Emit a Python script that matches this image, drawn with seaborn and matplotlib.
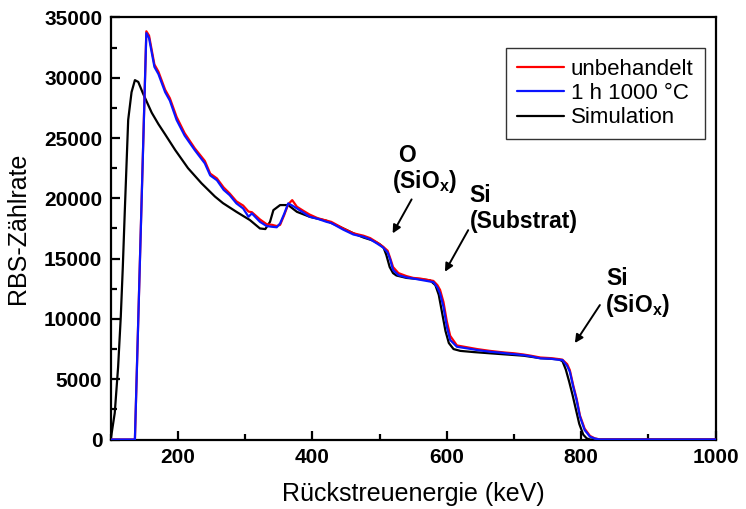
import matplotlib
matplotlib.use("Agg")
import matplotlib.pyplot as plt
from matplotlib.ticker import MultipleLocator
import seaborn as sns
import pandas as pd

# ---------------- data ----------------
energy_meas = [100, 136, 153, 157, 165, 171, 181, 188, 198, 210,
               225, 240, 248, 258, 268, 277, 287, 297, 305, 310,
               322, 332, 340, 347, 352, 358, 364, 370, 377, 387,
               396, 408, 421, 428, 433, 446, 461, 476, 486, 496,
               505, 512, 516, 520, 528, 540, 550, 560, 570, 580,
               586, 590, 595, 600, 605, 615, 630, 645, 664, 680,
               689, 700, 714, 725, 739, 754, 765, 772, 779, 783,
               788, 793, 798, 805, 813, 820, 828, 1000]

counts_unbehandelt = [0, 0, 33850, 33500, 31100, 30500, 29000, 28300, 26750, 25400,
                      24150, 23100, 22050, 21650, 20900, 20400, 19750, 19400, 18900, 18850,
                      18250, 17850, 17800, 17700, 17800, 18600, 19500, 19850, 19300, 18950,
                      18650, 18350, 18150, 18050, 17900, 17500, 17100, 16900, 16700, 16350,
                      16000, 15650, 15000, 14300, 13800, 13550, 13400, 13350, 13250, 13150,
                      12800, 12400, 11400, 9800, 8600, 7800, 7650, 7500, 7350, 7250,
                      7200, 7150, 7050, 6950, 6800, 6750, 6680, 6620, 6250, 5750,
                      4500, 3400, 2000, 900, 300, 100, 0, 0]

counts_1000C = [0, 0, 33700, 33300, 30900, 30300, 28800, 28100, 26500, 25200,
                24000, 22900, 21900, 21500, 20700, 20260, 19580, 19160, 18470, 18750,
                18050, 17700, 17640, 17600, 17920, 18700, 19580, 19400, 19160, 18800,
                18470, 18300, 18050, 17950, 17800, 17400, 17000, 16810, 16600, 16260,
                15930, 15500, 14880, 14050, 13630, 13440, 13350, 13250, 13150, 13050,
                12600, 12100, 11000, 9350, 8250, 7690, 7560, 7420, 7280, 7200,
                7140, 7080, 7000, 6900, 6730, 6700, 6620, 6590, 6100, 5620,
                4380, 3280, 1900, 790, 230, 80, 0, 0]

energy_sim = [100, 106, 111, 115, 118, 121, 126, 131, 136, 141,
              148, 161, 171, 181, 196, 215, 235, 255, 267, 287,
              307, 322, 330, 337, 342, 352, 364, 377, 396, 421,
              446, 461, 476, 490, 500, 506, 510, 515, 520, 525,
              540, 560, 575, 583, 588, 593, 598, 603, 610, 620,
              640, 664, 689, 714, 739, 754, 766, 772, 777, 782,
              787, 792, 797, 803, 808, 813, 820, 1000]

counts_sim = [0, 2200, 6000, 10200, 14300, 19000, 26500, 28800, 29800, 29650,
              28700, 27100, 26150, 25300, 24000, 22500, 21250, 20150, 19600, 18880,
              18200, 17500, 17450, 18050, 19020, 19440, 19440, 18880, 18470, 18140,
              17500, 17100, 16750, 16500, 16200, 15900, 15300, 14300, 13800, 13600,
              13400, 13300, 13200, 12800, 12000, 10500, 9000, 8000, 7500, 7350,
              7250, 7150, 7050, 6950, 6750, 6700, 6650, 6500, 5800, 4800,
              3700, 2500, 1300, 400, 100, 0, 0, 0]

series_labels = ["unbehandelt", "1 h 1000 °C", "Simulation"]
x_label = "Rückstreuenergie (keV)"
y_label = "RBS-Zählrate"

# ---------------- style ----------------
sns.set_style("white")
plt.rcParams["font.family"] = ["Liberation Sans", "DejaVu Sans"]
plt.rcParams["mathtext.fontset"] = "custom"
plt.rcParams["mathtext.rm"] = "Liberation Sans"
plt.rcParams["mathtext.bf"] = "Liberation Sans:bold"
plt.rcParams["text.color"] = "black"
plt.rcParams["axes.labelcolor"] = "black"
plt.rcParams["xtick.color"] = "black"
plt.rcParams["ytick.color"] = "black"

fig = plt.figure(figsize=(7.46, 5.09), dpi=100)
ax = fig.add_axes([0.1484, 0.1365, 0.9594 - 0.1484, 0.9658 - 0.1365])

df_meas = pd.DataFrame({"E": energy_meas, "u": counts_unbehandelt, "t": counts_1000C})
df_sim = pd.DataFrame({"E": energy_sim, "s": counts_sim})

lw = 1.6
sns.lineplot(data=df_sim, x="E", y="s", ax=ax, color="black", lw=lw,
             estimator=None, sort=False, label=series_labels[2], zorder=2)
sns.lineplot(data=df_meas, x="E", y="u", ax=ax, color="#ff0000", lw=lw,
             estimator=None, sort=False, label=series_labels[0], zorder=3)
sns.lineplot(data=df_meas, x="E", y="t", ax=ax, color="#0a14ff", lw=lw,
             estimator=None, sort=False, label=series_labels[1], zorder=4)

ax.set_xlim(100, 1000)
ax.set_ylim(0, 35000)
ax.xaxis.set_major_locator(MultipleLocator(200))
ax.xaxis.set_minor_locator(MultipleLocator(100))
ax.yaxis.set_major_locator(MultipleLocator(5000))
ax.yaxis.set_minor_locator(MultipleLocator(2500))

for s in ax.spines.values():
    s.set_linewidth(1.6)
    s.set_color("black")
ax.tick_params(which="both", direction="in", top=False, right=False,
               bottom=True, left=True, width=1.6, color="black",
               labelcolor="black")
ax.tick_params(which="major", length=6.5, labelsize=15, pad=6)
ax.tick_params(which="minor", length=4)
for lab in ax.get_xticklabels() + ax.get_yticklabels():
    lab.set_fontweight("bold")

ax.set_xlabel(x_label, fontsize=18, labelpad=11, color="black")
ax.set_ylabel(y_label, fontsize=18, labelpad=10, color="black")

# legend in requested order
handles, labels = ax.get_legend_handles_labels()
order = [labels.index(l) for l in series_labels]
leg = ax.legend([handles[i] for i in order], [labels[i] for i in order],
                loc="upper right", bbox_to_anchor=(0.982, 0.9275),
                fontsize=16, frameon=True, fancybox=False, framealpha=1,
                edgecolor="#333333", handlelength=2.1, handletextpad=0.32,
                labelspacing=0.14, borderpad=0.5, borderaxespad=0)
leg.get_frame().set_linewidth(1.0)
for t in leg.get_texts():
    t.set_color("black")

# annotations
tkw = dict(fontsize=16.5, fontweight="bold", ha="left", va="center", color="black")
ax.text(527, 23550, "O", **tkw)
ax.text(518, 21400, r"(SiO$_\mathbf{x}$)", **tkw)
ax.text(634, 20220, "Si", **tkw)
ax.text(634, 18110, "(Substrat)", **tkw)
ax.text(838, 13385, "Si", **tkw)
ax.text(836, 11150, r"(SiO$_\mathbf{x}$)", **tkw)

akw = dict(arrowstyle="-|>", color="black", lw=1.4, mutation_scale=12,
           shrinkA=0, shrinkB=0)
ax.annotate("", xy=(519.4, 17090), xytext=(547.6, 19910), arrowprops=akw)
ax.annotate("", xy=(597.2, 13910), xytext=(631.8, 17360), arrowprops=akw)
ax.annotate("", xy=(790.5, 8000), xytext=(827.7, 11150), arrowprops=akw)

fig.savefig("out.png", dpi=100)
